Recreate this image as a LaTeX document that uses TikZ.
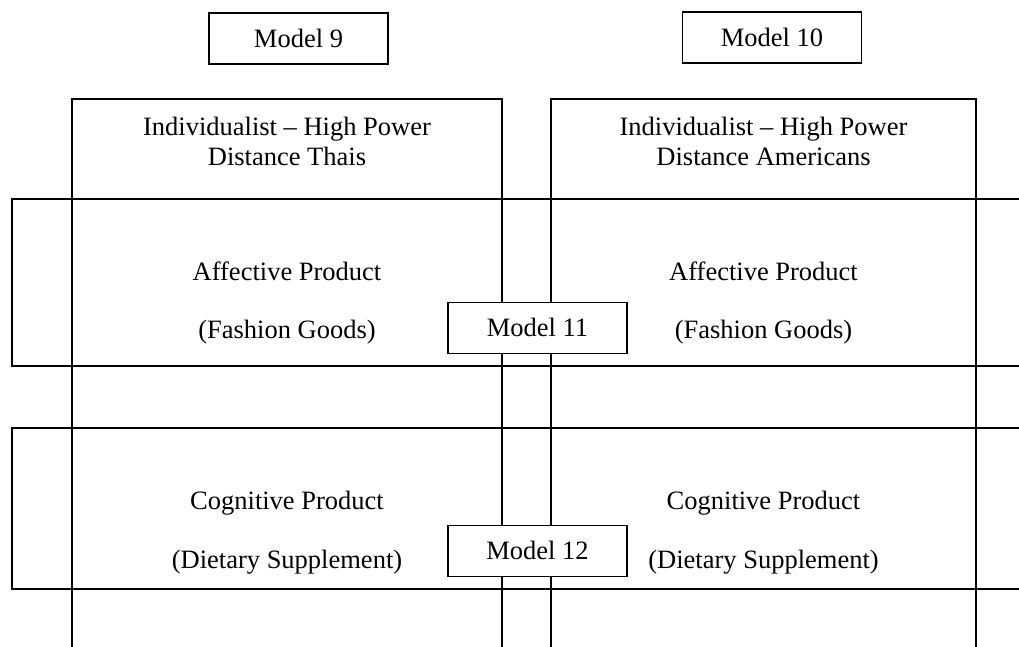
\documentclass[tikz,border=0pt]{standalone}
\usepackage{fontspec}
\setmainfont{Liberation Serif}
\begin{document}
\begin{tikzpicture}[x=1pt,y=-1pt,
  frame/.style={line width=1.5pt},
  lbl/.style={font=\fontsize{26.5}{32}\selectfont, anchor=base, inner sep=0pt},
  modelbox/.style={draw, line width=1.5pt, fill=white, minimum width=179pt,
    minimum height=51pt, inner sep=0pt, font=\fontsize{26.5}{32}\selectfont,
    text height=17pt, text depth=0pt}]
\useasboundingbox (0,0) rectangle (1019,646);
\begin{scope}
  \clip (0,0) rectangle (1019,646);
  % product bands running across both groups
  \draw[frame] (1030,199) -- (12,199) -- (12,366) -- (1030,366);
  \draw[frame] (1030,428) -- (12,428) -- (12,589) -- (1030,589);
  % the two cultural groups
  \draw[frame] (72,660) -- (72,99) -- (502,99) -- (502,660);
  \draw[frame] (551,660) -- (551,99) -- (976,99) -- (976,660);
\end{scope}

% group headings
\node[lbl] (thA) at (287,135) {Individualist – High Power};
\node[lbl] (thB) at (287,165) {Distance Thais};
\node[lbl] (amA) at (763.5,135) {Individualist – High Power};
\node[lbl] (amB) at (763.5,165) {Distance Americans};

% product labels
\node[lbl] (afL1) at (287,280) {Affective Product};
\node[lbl] (afL2) at (287,338) {(Fashion Goods)};
\node[lbl] (afR1) at (763.5,280) {Affective Product};
\node[lbl] (afR2) at (763.5,338) {(Fashion Goods)};
\node[lbl] (cgL1) at (287,509) {Cognitive Product};
\node[lbl] (cgL2) at (287,568) {(Dietary Supplement)};
\node[lbl] (cgR1) at (763.5,509) {Cognitive Product};
\node[lbl] (cgR2) at (763.5,568) {(Dietary Supplement)};

% model boxes
\node[modelbox] (m9)  at (298.5,38.5) {Model 9};
\node[modelbox] (m10) at (772,37.5)   {Model 10};
\node[modelbox] (m11) at (537.5,328)  {Model 11};
\node[modelbox] (m12) at (537.5,551)  {Model 12};
\end{tikzpicture}
\end{document}
